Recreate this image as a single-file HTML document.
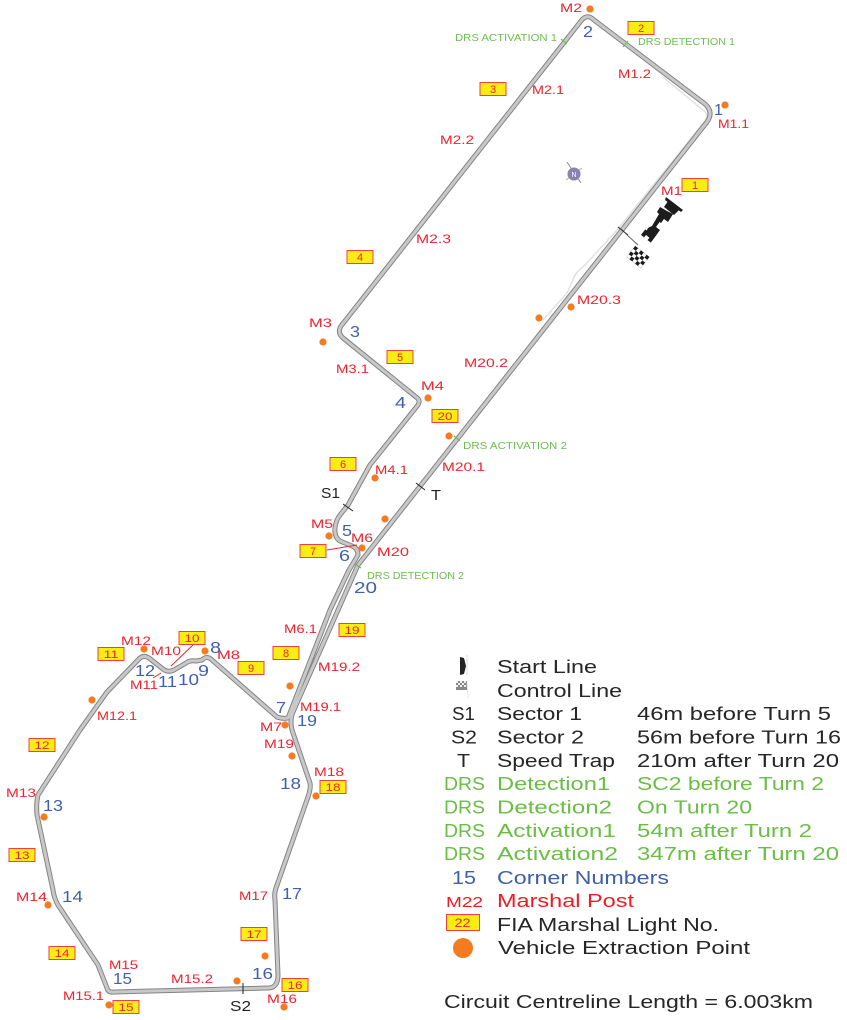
<!DOCTYPE html>
<html><head><meta charset="utf-8"><style>
html,body{margin:0;padding:0;background:#fff}
svg{display:block}
text{font-family:"Liberation Sans",sans-serif}
.m{fill:#ed2430;font-size:12px}
.c{fill:#4060ac;font-size:16px}
.k{fill:#222;font-size:15px}
.g{fill:#6cbf4f;font-size:10.5px}
.l{font-size:18px;fill:#262626}
.lg{font-size:18px;fill:#6abd45}
.lb{font-size:18px;fill:#3f5fa8}
.lr{font-size:18px;fill:#ed1c24}
.bt{fill:#ed2430;font-size:11px;text-anchor:middle}
.b{fill:#faed14;stroke:#ee4040;stroke-width:1}
.d{fill:#f47b20}
</style></head><body>
<svg width="847" height="1020" viewBox="0 0 847 1020" xmlns="http://www.w3.org/2000/svg" lengthAdjust="spacingAndGlyphs">
<!-- pit lane -->
<path d="M663,77 L703,110 Q709,114 705,121 L617,230 L583,267 Q575,272 573,280 L567,293 L543,320" fill="none" stroke="#e0e0e0" stroke-width="1.4"/>
<!-- track -->
<g fill="none" stroke-linejoin="round" stroke-linecap="round">
<path d="M341,326 L581,21 Q587,13 594,20 L705,104 Q714,112 707,122 L358,565 L338,610 L293,712 Q289,722 293,733 L310,783 Q311,788 308,797 L276,888 Q274,893 275,900 L278,975 Q278,988 268,988 L115,992 Q108,993 107,988 L98,965 L58,905 Q54,898 53,890 L37,815 Q36,803 38,795 L80,730 L107,692 L138,660 Q143,654 149,658 L163,669 Q168,673 174,670 L186,663 Q190,660 196,661 L202,660 Q207,655 212,660 L277,717 Q282,719 288,718 L330,610 L349,570 L358,555 Q358,548 352,546 L340,541 Q334,537 335,528 Q336,520 340,515 L348,505 L370,465 L418,405 Q421,400 416,397 L343,338 Q337,333 341,326 Z" stroke="#848484" stroke-width="5"/>
<path d="M341,326 L581,21 Q587,13 594,20 L705,104 Q714,112 707,122 L358,565 L338,610 L293,712 Q289,722 293,733 L310,783 Q311,788 308,797 L276,888 Q274,893 275,900 L278,975 Q278,988 268,988 L115,992 Q108,993 107,988 L98,965 L58,905 Q54,898 53,890 L37,815 Q36,803 38,795 L80,730 L107,692 L138,660 Q143,654 149,658 L163,669 Q168,673 174,670 L186,663 Q190,660 196,661 L202,660 Q207,655 212,660 L277,717 Q282,719 288,718 L330,610 L349,570 L358,555 Q358,548 352,546 L340,541 Q334,537 335,528 Q336,520 340,515 L348,505 L370,465 L418,405 Q421,400 416,397 L343,338 Q337,333 341,326 Z" stroke="#c8c8c8" stroke-width="3"/>
</g>
<!-- ticks -->
<g stroke="#222" stroke-width="1" fill="none">
<line x1="618" y1="227" x2="628" y2="235"/>
<line x1="343" y1="504" x2="353" y2="511"/>
<line x1="416" y1="483" x2="425" y2="490"/>
<line x1="243" y1="983" x2="243" y2="994"/>
<line x1="625" y1="233" x2="638" y2="245" stroke="#666"/>
</g>
<g stroke="#6cbf4f" stroke-width="1.2">
<line x1="561" y1="39" x2="567" y2="44"/>
<line x1="623" y1="47" x2="628" y2="41"/>
<line x1="454" y1="436" x2="460" y2="441"/>
<line x1="355" y1="564" x2="361" y2="568"/>
</g>
<g stroke="#ed2430" stroke-width="1" fill="none">
<line x1="327" y1="550" x2="357" y2="545"/>
<line x1="193" y1="645" x2="171" y2="666"/>
<line x1="153" y1="678" x2="161" y2="673"/>
</g>
<!-- compass -->
<g><line x1="567" y1="162" x2="581" y2="183" stroke="#888" stroke-width="1"/><line x1="566" y1="180" x2="582" y2="168" stroke="#aaa" stroke-width="1"/><circle cx="574" cy="174" r="6" fill="#8a80bd" stroke="#888" stroke-width="1"/><text x="574" y="177" font-size="7" fill="#fff" text-anchor="middle">N</text></g>
<!-- car -->
<g fill="#1c1c1c">
<path d="M666,197 L683,210 L681,212 L665,200 Z"/>
<path d="M668,201 L680,209 L674,215 L664,207 Z"/>
<path d="M660,207 L667,211 L673,214 L668,222 L664,219 L661,223 L657,220 L660,215 L657,212 Z"/>
<path d="M664,216 L656,227 L660,230 L655,237 L652,240 L645,234 L648,228 L652,226 L659,214 Z"/>
<rect x="643" y="230" width="4" height="7" transform="rotate(38 645 233)"/>
<rect x="649" y="236" width="4" height="6" transform="rotate(38 651 239)"/>
</g>
<!-- chequered flag -->
<g transform="translate(638,257) rotate(38)">
<rect x="-9" y="-7" width="18" height="14" fill="#fff" stroke="#bbb" stroke-width=".5"/>
<g fill="#1a1a1a"><rect x="-9" y="-7" width="3.6" height="3.5"/><rect x="-1.8" y="-7" width="3.6" height="3.5"/><rect x="5.4" y="-7" width="3.6" height="3.5"/><rect x="-5.4" y="-3.5" width="3.6" height="3.5"/><rect x="1.8" y="-3.5" width="3.6" height="3.5"/><rect x="-9" y="0" width="3.6" height="3.5"/><rect x="-1.8" y="0" width="3.6" height="3.5"/><rect x="5.4" y="0" width="3.6" height="3.5"/><rect x="-5.4" y="3.5" width="3.6" height="3.5"/><rect x="1.8" y="3.5" width="3.6" height="3.5"/></g>
</g>
<!-- orange dots -->
<g class="d">
<circle cx="590" cy="9" r="3.6"/><circle cx="725" cy="105" r="3.6"/><circle cx="539" cy="318" r="3.6"/><circle cx="571" cy="307" r="3.6"/><circle cx="323" cy="342" r="3.6"/><circle cx="428" cy="398" r="3.6"/><circle cx="449" cy="436" r="3.6"/><circle cx="375" cy="478" r="3.6"/><circle cx="385" cy="519" r="3.6"/><circle cx="329" cy="536" r="3.6"/><circle cx="362" cy="548" r="3.6"/><circle cx="205" cy="651" r="3.6"/><circle cx="144" cy="649" r="3.6"/><circle cx="92" cy="700" r="3.6"/><circle cx="290" cy="686" r="3.6"/><circle cx="285" cy="725" r="3.6"/><circle cx="292" cy="756" r="3.6"/><circle cx="316" cy="796" r="3.6"/><circle cx="44" cy="817" r="3.6"/><circle cx="48" cy="905" r="3.6"/><circle cx="265" cy="956" r="3.6"/><circle cx="237" cy="981" r="3.6"/><circle cx="109" cy="1005" r="3.6"/><circle cx="284" cy="1007" r="3.6"/>
</g>
<!-- yellow boxes -->
<g class="b">
<rect x="682" y="178.500" width="26" height="13"/><rect x="628" y="21.500" width="26" height="13"/><rect x="480" y="82.500" width="26" height="13"/><rect x="347" y="250.500" width="26" height="13"/><rect x="387" y="350.500" width="26" height="13"/><rect x="330" y="457.500" width="26" height="13"/><rect x="300" y="544.500" width="26" height="13"/><rect x="273" y="646.500" width="26" height="13"/><rect x="238" y="661.500" width="26" height="13"/><rect x="179" y="631.500" width="26" height="13"/><rect x="98" y="647.500" width="26" height="13"/><rect x="29" y="738.500" width="26" height="13"/><rect x="9" y="848.500" width="26" height="13"/><rect x="49" y="946.500" width="26" height="13"/><rect x="113" y="1000.500" width="26" height="13"/><rect x="282" y="978.500" width="26" height="13"/><rect x="241" y="927.500" width="26" height="13"/><rect x="320" y="780.500" width="26" height="13"/><rect x="339" y="623.500" width="26" height="13"/><rect x="432" y="409.500" width="26" height="13"/>
</g>
<g class="bt">
<text x="695" y="189">1</text><text x="641" y="32">2</text><text x="493" y="93">3</text><text x="360" y="261">4</text><text x="400" y="361">5</text><text x="343" y="468">6</text><text x="313" y="555">7</text><text x="286" y="657">8</text><text x="251" y="672">9</text><text x="192" y="642" textLength="15" lengthAdjust="spacingAndGlyphs">10</text><text x="111" y="658" textLength="15" lengthAdjust="spacingAndGlyphs">11</text><text x="42" y="749" textLength="15" lengthAdjust="spacingAndGlyphs">12</text><text x="22" y="859" textLength="15" lengthAdjust="spacingAndGlyphs">13</text><text x="62" y="957" textLength="15" lengthAdjust="spacingAndGlyphs">14</text><text x="126" y="1011" textLength="15" lengthAdjust="spacingAndGlyphs">15</text><text x="295" y="989" textLength="15" lengthAdjust="spacingAndGlyphs">16</text><text x="254" y="938" textLength="15" lengthAdjust="spacingAndGlyphs">17</text><text x="333" y="791" textLength="15" lengthAdjust="spacingAndGlyphs">18</text><text x="352" y="634" textLength="15" lengthAdjust="spacingAndGlyphs">19</text><text x="445" y="420" textLength="15" lengthAdjust="spacingAndGlyphs">20</text>
</g>
<!-- marshal labels -->
<g class="m">
<text x="560" y="12" textLength="22" lengthAdjust="spacingAndGlyphs">M2</text>
<text x="618" y="78" textLength="33" lengthAdjust="spacingAndGlyphs">M1.2</text>
<text x="718" y="128" textLength="31" lengthAdjust="spacingAndGlyphs">M1.1</text>
<text x="532" y="94" textLength="32" lengthAdjust="spacingAndGlyphs">M2.1</text>
<text x="440" y="144" textLength="34" lengthAdjust="spacingAndGlyphs">M2.2</text>
<text x="416" y="243" textLength="35" lengthAdjust="spacingAndGlyphs">M2.3</text>
<text x="661" y="195" textLength="21" lengthAdjust="spacingAndGlyphs">M1</text>
<text x="577" y="304" textLength="44" lengthAdjust="spacingAndGlyphs">M20.3</text>
<text x="309" y="327" textLength="23" lengthAdjust="spacingAndGlyphs">M3</text>
<text x="336" y="373" textLength="33" lengthAdjust="spacingAndGlyphs">M3.1</text>
<text x="421" y="390" textLength="23" lengthAdjust="spacingAndGlyphs">M4</text>
<text x="375" y="474" textLength="33" lengthAdjust="spacingAndGlyphs">M4.1</text>
<text x="464" y="367" textLength="44" lengthAdjust="spacingAndGlyphs">M20.2</text>
<text x="442" y="471" textLength="43" lengthAdjust="spacingAndGlyphs">M20.1</text>
<text x="311" y="528" textLength="22" lengthAdjust="spacingAndGlyphs">M5</text>
<text x="351" y="542" textLength="22" lengthAdjust="spacingAndGlyphs">M6</text>
<text x="377" y="556" textLength="32" lengthAdjust="spacingAndGlyphs">M20</text>
<text x="284" y="633" textLength="33" lengthAdjust="spacingAndGlyphs">M6.1</text>
<text x="318" y="671" textLength="42" lengthAdjust="spacingAndGlyphs">M19.2</text>
<text x="300" y="711" textLength="41" lengthAdjust="spacingAndGlyphs">M19.1</text>
<text x="260" y="731" textLength="22" lengthAdjust="spacingAndGlyphs">M7</text>
<text x="264" y="748" textLength="30" lengthAdjust="spacingAndGlyphs">M19</text>
<text x="314" y="776" textLength="30" lengthAdjust="spacingAndGlyphs">M18</text>
<text x="217" y="659" textLength="23" lengthAdjust="spacingAndGlyphs">M8</text>
<text x="151" y="655" textLength="30" lengthAdjust="spacingAndGlyphs">M10</text>
<text x="121" y="645" textLength="30" lengthAdjust="spacingAndGlyphs">M12</text>
<text x="130" y="689" textLength="28" lengthAdjust="spacingAndGlyphs">M11</text>
<text x="97" y="720" textLength="40" lengthAdjust="spacingAndGlyphs">M12.1</text>
<text x="6" y="797" textLength="30" lengthAdjust="spacingAndGlyphs">M13</text>
<text x="16" y="901" textLength="31" lengthAdjust="spacingAndGlyphs">M14</text>
<text x="109" y="969" textLength="29" lengthAdjust="spacingAndGlyphs">M15</text>
<text x="63" y="1000" textLength="41" lengthAdjust="spacingAndGlyphs">M15.1</text>
<text x="171" y="983" textLength="42" lengthAdjust="spacingAndGlyphs">M15.2</text>
<text x="239" y="900" textLength="29" lengthAdjust="spacingAndGlyphs">M17</text>
<text x="267" y="1003" textLength="30" lengthAdjust="spacingAndGlyphs">M16</text>
</g>
<!-- corner numbers -->
<g class="c">
<text x="714" y="115" textLength="9" lengthAdjust="spacingAndGlyphs">1</text>
<text x="583" y="37" textLength="10" lengthAdjust="spacingAndGlyphs">2</text>
<text x="350" y="337" textLength="10" lengthAdjust="spacingAndGlyphs">3</text>
<text x="395" y="408" textLength="11" lengthAdjust="spacingAndGlyphs">4</text>
<text x="342" y="536" textLength="10" lengthAdjust="spacingAndGlyphs">5</text>
<text x="339" y="561" textLength="11" lengthAdjust="spacingAndGlyphs">6</text>
<text x="354" y="593" textLength="23" lengthAdjust="spacingAndGlyphs">20</text>
<text x="276" y="713" textLength="10" lengthAdjust="spacingAndGlyphs">7</text>
<text x="297" y="726" textLength="20" lengthAdjust="spacingAndGlyphs">19</text>
<text x="280" y="789" textLength="21" lengthAdjust="spacingAndGlyphs">18</text>
<text x="210" y="653" textLength="11" lengthAdjust="spacingAndGlyphs">8</text>
<text x="198" y="676" textLength="11" lengthAdjust="spacingAndGlyphs">9</text>
<text x="178" y="685" textLength="21" lengthAdjust="spacingAndGlyphs">10</text>
<text x="158" y="687" textLength="19" lengthAdjust="spacingAndGlyphs">11</text>
<text x="135" y="676" textLength="20" lengthAdjust="spacingAndGlyphs">12</text>
<text x="43" y="811" textLength="20" lengthAdjust="spacingAndGlyphs">13</text>
<text x="62" y="902" textLength="21" lengthAdjust="spacingAndGlyphs">14</text>
<text x="113" y="984" textLength="19" lengthAdjust="spacingAndGlyphs">15</text>
<text x="252" y="979" textLength="21" lengthAdjust="spacingAndGlyphs">16</text>
<text x="282" y="899" textLength="20" lengthAdjust="spacingAndGlyphs">17</text>
</g>
<g class="k">
<text x="321" y="498" textLength="19" lengthAdjust="spacingAndGlyphs">S1</text>
<text x="431" y="500" textLength="10" lengthAdjust="spacingAndGlyphs">T</text>
<text x="230" y="1011" textLength="21" lengthAdjust="spacingAndGlyphs">S2</text>
</g>
<g class="g">
<text x="455" y="41" textLength="102" lengthAdjust="spacingAndGlyphs">DRS ACTIVATION 1</text>
<text x="638" y="45" textLength="97" lengthAdjust="spacingAndGlyphs">DRS DETECTION 1</text>
<text x="463" y="449" textLength="104" lengthAdjust="spacingAndGlyphs">DRS ACTIVATION 2</text>
<text x="367" y="579" textLength="97" lengthAdjust="spacingAndGlyphs">DRS DETECTION 2</text>
</g>
<!-- legend -->
<path d="M460,657 L464,658 L466,666 L464,674 L460,675 Z" fill="#222"/>
<line x1="467" y1="655" x2="467" y2="675" stroke="#ccc" stroke-width=".7"/>
<g transform="translate(461,686)"><rect x="-5" y="-5" width="11" height="9" fill="#888"/><g fill="#eee"><rect x="-5" y="-5" width="2" height="2"/><rect x="-1" y="-5" width="2" height="2"/><rect x="3" y="-5" width="2" height="2"/><rect x="-3" y="-3" width="2" height="2"/><rect x="1" y="-3" width="2" height="2"/><rect x="-5" y="-1" width="2" height="2"/><rect x="-1" y="-1" width="2" height="2"/><rect x="3" y="-1" width="2" height="2"/></g><line x1="6" y1="-3" x2="7" y2="12" stroke="#ddd" stroke-width=".7"/></g>
<g class="l">
<text x="497" y="673" textLength="100" lengthAdjust="spacingAndGlyphs">Start Line</text>
<text x="497" y="697" textLength="125" lengthAdjust="spacingAndGlyphs">Control Line</text>
<text x="452" y="720" textLength="23" lengthAdjust="spacingAndGlyphs">S1</text>
<text x="497" y="720" textLength="85" lengthAdjust="spacingAndGlyphs">Sector 1</text>
<text x="637" y="720" textLength="194" lengthAdjust="spacingAndGlyphs">46m before Turn 5</text>
<text x="451" y="743.500" textLength="26" lengthAdjust="spacingAndGlyphs">S2</text>
<text x="497" y="743.500" textLength="87" lengthAdjust="spacingAndGlyphs">Sector 2</text>
<text x="637" y="743.500" textLength="204" lengthAdjust="spacingAndGlyphs">56m before Turn 16</text>
<text x="457" y="767" textLength="13" lengthAdjust="spacingAndGlyphs">T</text>
<text x="497" y="767" textLength="118" lengthAdjust="spacingAndGlyphs">Speed Trap</text>
<text x="637" y="767" textLength="202" lengthAdjust="spacingAndGlyphs">210m after Turn 20</text>
<text x="497" y="931" textLength="222" lengthAdjust="spacingAndGlyphs">FIA Marshal Light No.</text>
<text x="498" y="954" textLength="252" lengthAdjust="spacingAndGlyphs">Vehicle Extraction Point</text>
<text x="444" y="1008" textLength="369" lengthAdjust="spacingAndGlyphs">Circuit Centreline Length = 6.003km</text>
</g>
<g class="lg">
<text x="444" y="790" textLength="41" lengthAdjust="spacingAndGlyphs">DRS</text>
<text x="497" y="790" textLength="113" lengthAdjust="spacingAndGlyphs">Detection1</text>
<text x="637" y="790" textLength="187" lengthAdjust="spacingAndGlyphs">SC2 before Turn 2</text>
<text x="444" y="813.500" textLength="41" lengthAdjust="spacingAndGlyphs">DRS</text>
<text x="497" y="813.500" textLength="115" lengthAdjust="spacingAndGlyphs">Detection2</text>
<text x="637" y="813.500" textLength="115" lengthAdjust="spacingAndGlyphs">On Turn 20</text>
<text x="444" y="837" textLength="41" lengthAdjust="spacingAndGlyphs">DRS</text>
<text x="497" y="837" textLength="119" lengthAdjust="spacingAndGlyphs">Activation1</text>
<text x="637" y="837" textLength="175" lengthAdjust="spacingAndGlyphs">54m after Turn 2</text>
<text x="444" y="860" textLength="41" lengthAdjust="spacingAndGlyphs">DRS</text>
<text x="497" y="860" textLength="121" lengthAdjust="spacingAndGlyphs">Activation2</text>
<text x="637" y="860" textLength="202" lengthAdjust="spacingAndGlyphs">347m after Turn 20</text>
</g>
<g class="lb">
<text x="452" y="884" textLength="24" lengthAdjust="spacingAndGlyphs">15</text>
<text x="497" y="884" textLength="172" lengthAdjust="spacingAndGlyphs">Corner Numbers</text>
</g>
<g class="lr">
<text x="446" y="907" textLength="37" lengthAdjust="spacingAndGlyphs" style="font-size:15px">M22</text>
<text x="497" y="907" textLength="137" lengthAdjust="spacingAndGlyphs">Marshal Post</text>
</g>
<rect x="446.500" y="914.500" width="33" height="16" class="b"/>
<text x="462.500" y="927" class="bt" style="font-size:12px" textLength="16" lengthAdjust="spacingAndGlyphs">22</text>
<circle cx="463" cy="948" r="10" class="d"/>
</svg>
</body></html>
